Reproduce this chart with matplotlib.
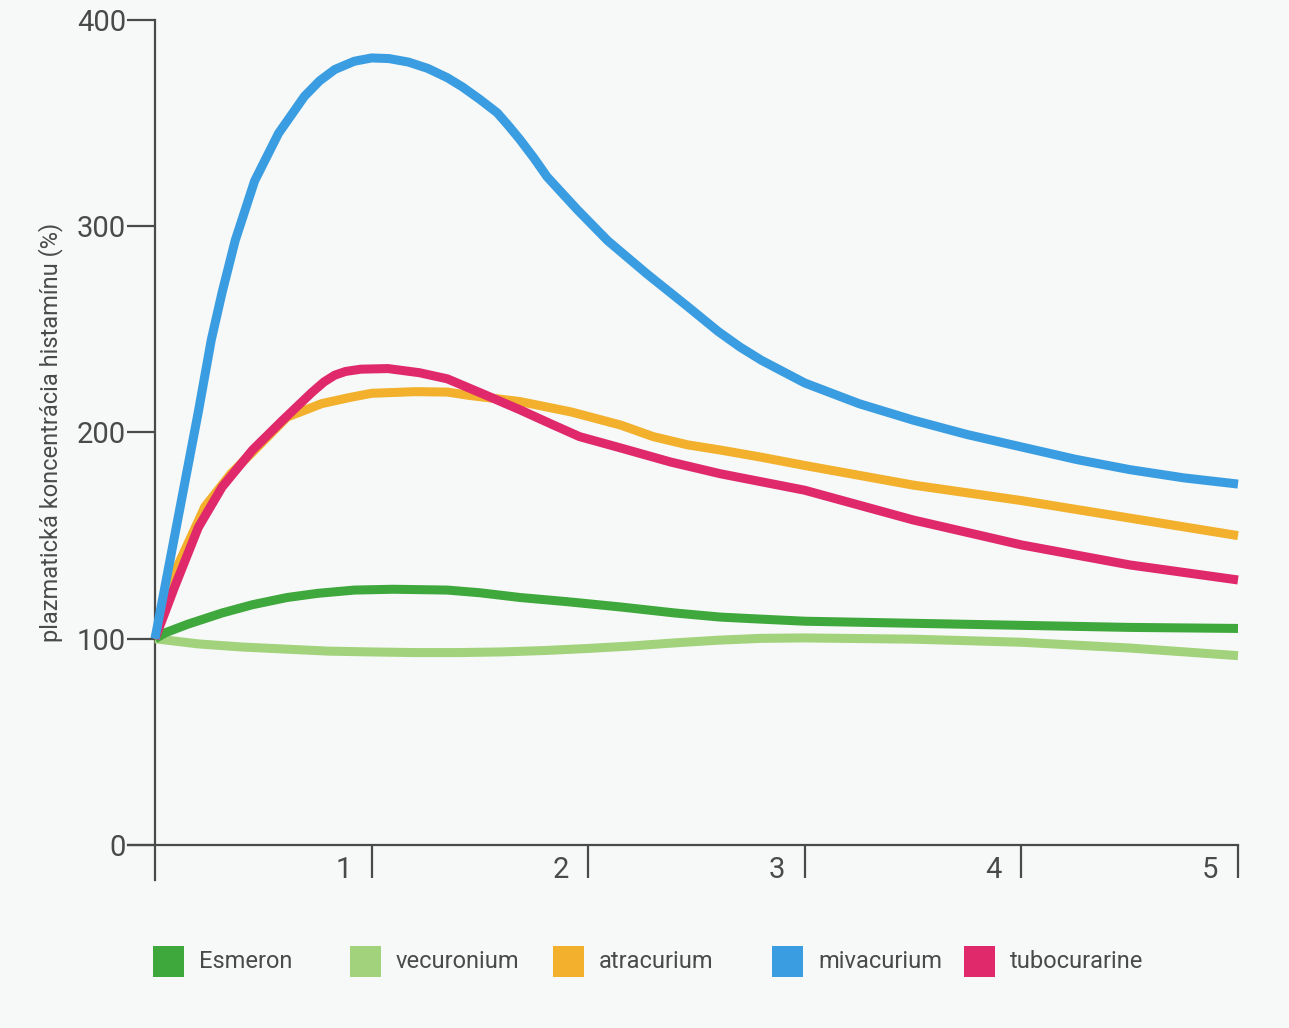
import matplotlib
matplotlib.use("Agg")
import matplotlib.pyplot as plt
from matplotlib.patches import Rectangle

plt.rcParams["font.family"] = ["Roboto", "DejaVu Sans"]

# time axis ticks and y ticks
x_ticks = [1, 2, 3, 4, 5]
y_ticks = [0, 100, 200, 300, 400]
y_label = "plazmatická koncentrácia histamínu (%)"

# series
t_esm = [0, 0.05, 0.15, 0.31, 0.45, 0.61, 0.75, 0.92, 1.1, 1.35, 1.5, 1.685, 1.9, 2.15, 2.4, 2.61, 2.8, 3.0, 3.5, 4.0, 4.5, 5.0]
esmeron = [100, 103, 107, 112.5, 116.5, 120, 122, 123.6, 124, 123.6, 122.3, 120, 118, 115.4, 112.5, 110.5, 109.5, 108.5, 107.5, 106.5, 105.5, 105]

t_vec = [0, 0.2, 0.4, 0.6, 0.8, 1.0, 1.2, 1.4, 1.6, 1.8, 2.0, 2.2, 2.4, 2.6, 2.8, 3.0, 3.5, 4.0, 4.5, 5.0]
vecuronium = [100, 97.5, 96, 95, 94, 93.6, 93.3, 93.3, 93.6, 94.3, 95.3, 96.5, 98, 99.3, 100.2, 100.4, 99.8, 98.3, 95.5, 91.8]

t_atr = [0, 0.09, 0.23, 0.35, 0.46, 0.61, 0.77, 0.9, 1.0, 1.2, 1.35, 1.45, 1.685, 1.92, 2.15, 2.3, 2.46, 2.61, 2.8, 3.0, 3.5, 4.0, 4.5, 5.0]
atracurium = [100, 132, 164, 180, 191.5, 207.5, 214, 217, 219, 219.8, 219.6, 218, 215, 210, 203.6, 198, 194, 191.5, 188, 184, 174.5, 167, 158.5, 150]

t_miv = [0, 0.1, 0.2, 0.26, 0.31, 0.37, 0.46, 0.57, 0.69, 0.76, 0.83, 0.92, 1.0, 1.08, 1.17, 1.26, 1.35, 1.42, 1.5, 1.58, 1.63, 1.685, 1.75, 1.81, 1.95, 2.09, 2.27, 2.46, 2.6, 2.7, 2.8, 3.0, 3.25, 3.5, 3.75, 4.0, 4.25, 4.5, 4.75, 5.0]
mivacurium = [100, 155, 210, 245, 268, 293, 322, 345, 363, 370.5, 376, 380, 381.6, 381.3, 379.6, 376.5, 372, 367.5, 361.5, 355, 349, 342, 333, 324, 308, 293, 277, 261, 249, 241.5, 235, 224, 214, 206, 199, 193, 187, 182, 178, 175]

t_tub = [0, 0.09, 0.2, 0.31, 0.45, 0.59, 0.67, 0.725, 0.78, 0.83, 0.88, 0.95, 1.075, 1.22, 1.35, 1.53, 1.685, 1.84, 1.96, 2.15, 2.38, 2.61, 3.0, 3.5, 4.0, 4.5, 5.0]
tubocurarine = [100, 125, 154, 173.6, 191.5, 206, 214, 219.5, 224.5, 227.8, 229.6, 230.7, 231, 229, 226, 218, 211, 203.6, 198, 192.5, 185.7, 180, 172, 157.6, 145.5, 135.8, 128.5]

names = ["Esmeron", "vecuronium", "atracurium", "mivacurium", "tubocurarine"]
colors = ["#3fa83c", "#a2d27c", "#f2b02c", "#3a9de2", "#e0296b"]

bg = "#f6f9f7"
axis_col = "#4a4a4a"
text_col = "#4a4a4a"

fig = plt.figure(figsize=(12.89, 10.28), dpi=100, facecolor=bg)
ax = fig.add_axes([155 / 1289, 183 / 1028, 1083 / 1289, 825 / 1028])
ax.set_facecolor(bg)
ax.set_xlim(0, 5)
ax.set_ylim(0, 400)

style = dict(lw=6.5, solid_capstyle="butt", solid_joinstyle="round", clip_on=False)
ax.plot(t_vec, vecuronium, color=colors[1], zorder=2, **style)
ax.plot(t_esm, esmeron, color=colors[0], zorder=3, **style)
ax.plot(t_atr, atracurium, color=colors[2], zorder=4, **style)
ax.plot(t_tub, tubocurarine, color=colors[4], zorder=5, **style)
ax.plot(t_miv, mivacurium, color=colors[3], zorder=6, **style)

# axes lines, drawn by hand so they overshoot like the original
for s in ax.spines.values():
    s.set_visible(False)
ax.plot([0, 0], [-17, 400], color=axis_col, lw=1.6, clip_on=False, zorder=1)
ax.plot([-0.125, 5], [0, 0], color=axis_col, lw=1.6, clip_on=False, zorder=1)

ax.set_xticks(x_ticks)
ax.set_xticklabels([])
ax.tick_params(axis="x", direction="out", length=24, width=1.6, color=axis_col)
for xt in x_ticks:
    ax.text(xt - 0.09, -12, str(xt), ha="right", va="center", fontsize=21, color=text_col)

ax.set_yticks(y_ticks)
ax.tick_params(axis="y", direction="out", length=20, width=1.6, color=axis_col,
               labelsize=21, labelcolor=text_col, pad=1)
ax.set_ylabel(y_label, fontsize=17, color=text_col)
ax.yaxis.set_label_coords(-0.085, 0.5)

# legend row
sq_x = [153, 350, 553, 772, 964]
for i in range(5):
    fig.add_artist(Rectangle((sq_x[i] / 1289, 51 / 1028), 31 / 1289, 31 / 1028,
                             transform=fig.transFigure, facecolor=colors[i], edgecolor="none"))
    fig.text((sq_x[i] + 46) / 1289, 67 / 1028, names[i], ha="left", va="center",
             fontsize=17, color=text_col)

fig.savefig("out.png", dpi=100, facecolor=bg)
